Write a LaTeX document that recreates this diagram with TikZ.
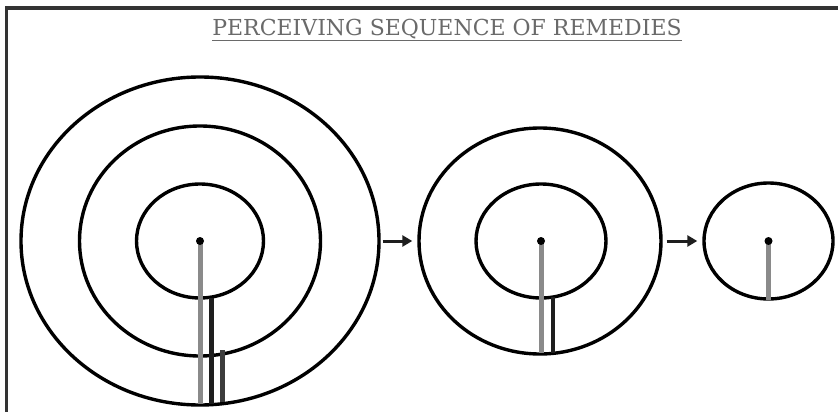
\documentclass[tikz,border=0pt]{standalone}
\usepackage{fontspec}
\setmainfont{Liberation Serif}
\newfontfamily\titlefont{DejaVu Serif}
\usetikzlibrary{shapes.geometric,arrows.meta}
\definecolor{lgray}{HTML}{8A8A8A}
\definecolor{dgray}{HTML}{1E1E1E}
\definecolor{mgray}{HTML}{3C3C3C}
\definecolor{tgray}{HTML}{6A6A6A}
\begin{document}
\begin{tikzpicture}[x=1pt,y=-1pt,
  ring/.style={ellipse,draw=black,line width=3.4pt,inner sep=0pt},
  dot/.style={circle,fill=black,inner sep=0pt,minimum size=8pt},
  rod/.style={line width=4.5pt,draw=lgray},
  rodd/.style={line width=4.5pt,draw=dgray},
  rodm/.style={line width=4.5pt,draw=mgray},
  flow/.style={-{Triangle[length=10pt,width=11pt]},line width=3pt,draw=dgray}]
\useasboundingbox (0,0) rectangle (838,412);
\fill[white] (0,0) rectangle (838,412);
% frame
\draw[line width=3.5pt,draw=black!80] (5,8) -- (838,8);
\draw[line width=3pt,draw=black!80] (6,8) -- (6,412);
% title
\node[text=tgray,font=\titlefont\fontsize{22}{26}\selectfont,inner sep=0pt] (title) at (447,30)
  {\underline{PERCEIVING SEQUENCE OF REMEDIES}};
% first set
\node[ring,minimum width=358pt,minimum height=328pt] (a3) at (200,241) {};
\node[ring,minimum width=241pt,minimum height=230pt] (a2) at (200,241) {};
\node[ring,minimum width=127pt,minimum height=114pt] (a1) at (200,241) {};
\draw[rod] (200.5,241) -- (200.5,404);
\draw[rodd] (211.5,298) -- (211.5,404);
\draw[rodm] (222.5,350) -- (222.5,402);
\node[dot] (ac) at (200,241) {};
% second set
\node[ring,minimum width=242pt,minimum height=226pt] (b2) at (540,241) {};
\node[ring,minimum width=130pt,minimum height=114pt] (b1) at (541,241) {};
\draw[rod] (541.5,241) -- (541.5,353);
\draw[rodd] (553,297) -- (553,353);
\node[dot] (bc) at (541,241) {};
% third set
\node[ring,minimum width=129pt,minimum height=116pt] (c1) at (768.5,241) {};
\draw[rod] (768.5,241) -- (768.5,300);
\node[dot] (cc) at (768.5,241) {};
% arrows
\draw[flow,shorten <=2pt,shorten >=5pt] (a3.east) -- (b2.west);
\draw[flow,shorten <=4pt,shorten >=5pt] (b2.east) -- (c1.west);
\end{tikzpicture}
\end{document}
